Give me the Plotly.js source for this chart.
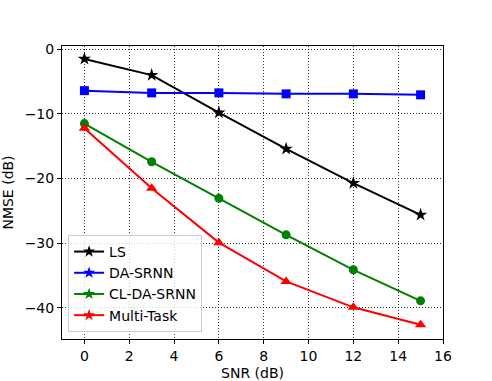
<!DOCTYPE html>
<html>
<head>
<meta charset="utf-8">
<script src="https://cdn.plot.ly/plotly-3.0.1.min.js"></script>
<style>html,body{margin:0;padding:0;background:#fff;}#chart{width:492px;height:381px;}</style>
</head>
<body>
<div id="chart"></div>
<script>
const snr = [0, 3, 6, 9, 12, 15];
const seriesNames = ["LS", "DA-SRNN", "CL-DA-SRNN", "Multi-Task"];
const lsValues = [-1.5, -4.0, -9.8, -15.4, -20.7, -25.6];
const daSrnnValues = [-6.4, -6.75, -6.75, -6.9, -6.9, -7.05];
const clDaSrnnValues = [-11.5, -17.4, -23.05, -28.7, -34.1, -38.9];
const multiTaskValues = [-12.2, -21.5, -29.9, -35.9, -39.9, -42.6];
const xTicks = [0, 2, 4, 6, 8, 10, 12, 14, 16];
const yTicks = [0, -10, -20, -30, -40];

const colors = ["#000000", "#0000ff", "#008000", "#ff0000"];
const symbols = ["star", "square", "circle", "triangle-up"];
const sizes = [10, 9, 9, 10];
const values = [lsValues, daSrnnValues, clDaSrnnValues, multiTaskValues];

const traces = [];
values.forEach((v, i) => {
  traces.push({
    x: snr, y: v, mode: "lines+markers", name: seriesNames[i], showlegend: false,
    line: {color: colors[i], width: 2},
    marker: {symbol: symbols[i], size: sizes[i], color: colors[i]}
  });
});
seriesNames.forEach((n, i) => {
  traces.push({
    x: [null], y: [null], mode: "lines+markers", name: n,
    line: {color: colors[i], width: 2},
    marker: {symbol: "star", size: 9, color: colors[i]}
  });
});

const font = {family: "DejaVu Sans", size: 14, color: "#000"};
const axisCommon = {
  showline: true, mirror: true, linecolor: "#000", linewidth: 1,
  ticks: "outside", ticklen: 4, tickcolor: "#000", tickwidth: 1,
  showgrid: true, gridcolor: "#000", gridwidth: 0.8, griddash: "1px,2px",
  zeroline: false, tickfont: font
};

const layout = {
  width: 492, height: 381,
  margin: {l: 62, r: 49, t: 46, b: 42},
  paper_bgcolor: "#fff", plot_bgcolor: "#fff",
  font: font,
  xaxis: Object.assign({}, axisCommon, {
    range: [-1, 16], tickvals: xTicks, ticktext: xTicks.map(String),
    title: {text: "SNR (dB)", font: font, standoff: 5}
  }),
  yaxis: Object.assign({}, axisCommon, {
    range: [-44.8, 0.5], tickvals: yTicks,
    title: {text: "NMSE (dB)", font: font, standoff: 8}
  }),
  legend: {
    x: 0.016, y: 0.024, xanchor: "left", yanchor: "bottom",
    bgcolor: "rgba(255,255,255,0.8)", bordercolor: "#cccccc", borderwidth: 1,
    font: font, tracegroupgap: 0, itemwidth: 30
  },
  showlegend: true
};

Plotly.newPlot("chart", traces, layout, {displayModeBar: false, staticPlot: true});
</script>
</body>
</html>
